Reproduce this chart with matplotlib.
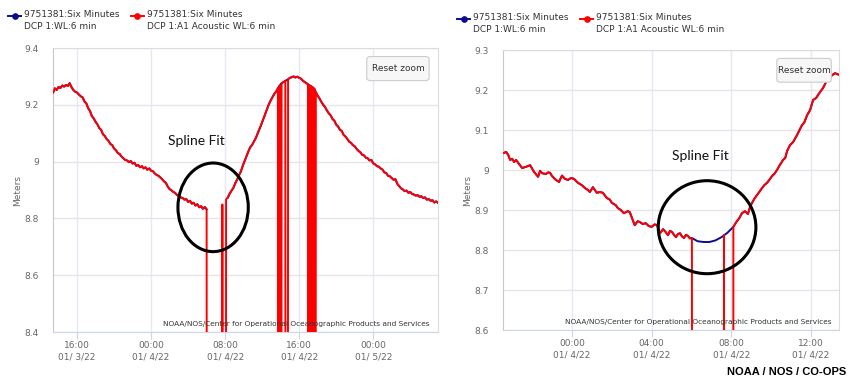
import matplotlib.pyplot as plt
import numpy as np
from matplotlib.lines import Line2D
from matplotlib.patches import Ellipse, FancyBboxPatch

# left panel: hours after 00:00 01/3/22, level in meters (0.0 = acoustic dropout)
left_hours = [
    13.4, 13.6, 13.8, 14.0, 14.2, 14.4, 14.6, 14.8, 15.0, 15.2,
    15.4, 15.6, 15.8, 16.0, 16.2, 16.4, 16.6, 16.8, 17.0, 17.2,
    17.4, 17.6, 17.8, 18.0, 18.2, 18.4, 18.6, 18.8, 19.0, 19.2,
    19.4, 19.6, 19.8, 20.0, 20.2, 20.4, 20.6, 20.8, 21.0, 21.2,
    21.4, 21.6, 21.8, 22.0, 22.2, 22.4, 22.6, 22.8, 23.0, 23.2,
    23.4, 23.6, 23.8, 24.0, 24.2, 24.4, 24.6, 24.8, 25.0, 25.2,
    25.4, 25.6, 25.8, 26.0, 26.2, 26.4, 26.6, 26.8, 27.0, 27.2,
    27.4, 27.6, 27.8, 28.0, 28.2, 28.4, 28.6, 28.8, 29.0, 29.2,
    29.4, 29.6, 29.8, 30.0,
    30.1, 31.6, 31.7, 31.8, 32.0, 32.1,
    32.3, 32.5, 32.7, 32.9, 33.1, 33.3, 33.5, 33.7, 33.9, 34.1,
    34.3, 34.5, 34.7, 34.9, 35.1, 35.3, 35.5, 35.7, 35.9, 36.1,
    36.3, 36.5, 36.7, 36.9, 37.1, 37.3, 37.5, 37.7,
    37.8, 37.9, 38.0, 38.1, 38.3, 38.5, 38.6, 38.7, 38.8, 39.0,
    39.2, 39.4, 39.6, 39.8, 40.0, 40.2, 40.4, 40.6, 40.8, 40.95,
    41.0, 41.05, 41.1, 41.15, 41.2, 41.25, 41.3, 41.35, 41.4, 41.45,
    41.5, 41.55, 41.6, 41.65, 41.7,
    41.8, 42.0, 42.2, 42.4, 42.6, 42.8, 43.0, 43.2, 43.4, 43.6,
    43.8, 44.0, 44.2, 44.4, 44.6, 44.8, 45.0, 45.2, 45.4, 45.6,
    45.8, 46.0, 46.2, 46.4, 46.6, 46.8, 47.0, 47.2, 47.4, 47.6,
    47.8, 48.0, 48.2, 48.4, 48.6, 48.8, 49.0, 49.2, 49.4, 49.6,
    49.8, 50.0, 50.2, 50.4, 50.6, 50.8, 51.0, 51.2, 51.4, 51.6,
    51.8, 52.0, 52.2, 52.4, 52.6, 52.8, 53.0, 53.2, 53.4, 53.6,
    53.8, 54.0, 54.2, 54.4, 54.6, 54.8, 55.0,
]
left_level = [
    9.242, 9.258, 9.252, 9.263, 9.259, 9.268, 9.264, 9.270, 9.266, 9.276,
    9.262, 9.252, 9.246, 9.243, 9.236, 9.230, 9.226, 9.212, 9.205, 9.188,
    9.178, 9.160, 9.152, 9.140, 9.131, 9.118, 9.112, 9.096, 9.090, 9.079,
    9.073, 9.062, 9.058, 9.046, 9.040, 9.030, 9.027, 9.018, 9.012, 9.006,
    9.004, 8.998, 9.002, 8.993, 8.996, 8.985, 8.988, 8.980, 8.984, 8.976,
    8.980, 8.971, 8.976, 8.968, 8.966, 8.958, 8.953, 8.950, 8.944, 8.938,
    8.930, 8.925, 8.912, 8.903, 8.899, 8.893, 8.890, 8.882, 8.880, 8.874,
    8.872, 8.866, 8.868, 8.858, 8.862, 8.852, 8.855, 8.845, 8.850, 8.839,
    8.843, 8.834, 8.840, 8.832,
    0.0, 0.0, 8.849, 0.0, 0.0, 8.867,
    8.874, 8.888, 8.898, 8.908, 8.924, 8.937, 8.952, 8.965, 8.985, 9.002,
    9.020, 9.035, 9.050, 9.058, 9.070, 9.082, 9.098, 9.115, 9.130, 9.148,
    9.165, 9.182, 9.200, 9.214, 9.226, 9.238, 9.246, 9.258,
    0.0, 9.268, 0.0, 9.276, 9.280, 9.284, 0.0, 0.0, 9.290, 9.295,
    9.297, 9.300, 9.296, 9.299, 9.295, 9.292, 9.285, 9.280, 9.276, 9.272,
    0.0, 9.270, 0.0, 9.268, 0.0, 9.266, 0.0, 9.264, 0.0, 9.262,
    0.0, 9.259, 0.0, 9.256, 0.0,
    9.245, 9.232, 9.222, 9.210, 9.200, 9.192, 9.180, 9.170, 9.163, 9.150,
    9.144, 9.130, 9.124, 9.112, 9.108, 9.094, 9.088, 9.080, 9.070, 9.066,
    9.058, 9.054, 9.045, 9.038, 9.033, 9.024, 9.022, 9.014, 9.012, 9.004,
    9.006, 8.994, 8.990, 8.984, 8.982, 8.976, 8.972, 8.962, 8.960, 8.950,
    8.948, 8.942, 8.936, 8.938, 8.922, 8.914, 8.906, 8.902, 8.896, 8.898,
    8.890, 8.893, 8.886, 8.884, 8.880, 8.882, 8.876, 8.878, 8.872, 8.874,
    8.866, 8.868, 8.862, 8.864, 8.856, 8.860, 8.855,
]
left_backup_gap = (30.05, 32.15)   # primary WL sensor also missing here

# right panel: hours after 00:00 01/4/22
right_hours = [
    -3.46, -3.3, -3.2, -3.1, -3.0, -2.9, -2.8, -2.7, -2.5, -2.3,
    -2.1, -1.9, -1.7, -1.6, -1.5, -1.3, -1.2, -1.1, -1.0, -0.85,
    -0.65, -0.5, -0.35, -0.2, -0.05, 0.1, 0.3, 0.5, 0.65, 0.8,
    0.9, 1.05, 1.15, 1.25, 1.4, 1.55, 1.75, 1.9, 2.0, 2.2,
    2.3, 2.45, 2.6, 2.8, 2.9, 3.05, 3.15, 3.3, 3.4, 3.55,
    3.7, 3.85, 4.0, 4.15, 4.27, 4.42, 4.57, 4.7, 4.82, 4.92,
    5.02, 5.12, 5.22, 5.32, 5.42, 5.52, 5.62, 5.72, 5.82, 5.92,
    6.02, 6.1, 7.6, 7.63, 7.7, 8.05, 8.1,
    8.25, 8.4, 8.53, 8.68, 8.83, 8.95, 9.03, 9.15, 9.28, 9.4,
    9.54, 9.65, 9.79, 9.9, 10.04, 10.15, 10.29, 10.4, 10.59, 10.7,
    10.8, 10.94, 11.1, 11.29, 11.4, 11.54, 11.65, 11.8, 11.95, 12.1,
    12.25, 12.45, 12.6, 12.8, 12.95, 13.05, 13.2, 13.3, 13.4,
]
right_level = [
    9.042, 9.045, 9.038, 9.025, 9.028, 9.020, 9.025, 9.018, 9.005, 9.008,
    9.012, 8.995, 8.983, 8.998, 8.992, 8.990, 8.994, 8.993, 8.985, 8.977,
    8.970, 8.986, 8.978, 8.975, 8.980, 8.978, 8.968, 8.962, 8.955, 8.950,
    8.945, 8.957, 8.950, 8.943, 8.945, 8.943, 8.930, 8.926, 8.918, 8.912,
    8.905, 8.900, 8.892, 8.897, 8.895, 8.875, 8.862, 8.872, 8.870, 8.865,
    8.867, 8.860, 8.858, 8.864, 8.862, 8.842, 8.852, 8.845, 8.837, 8.848,
    8.845, 8.838, 8.832, 8.840, 8.842, 8.834, 8.830, 8.838, 8.835, 8.829,
    8.830, 0.0, 0.0, 8.838, 0.0, 0.0, 8.858,
    8.870, 8.880, 8.892, 8.897, 8.890, 8.910, 8.917, 8.928, 8.937, 8.945,
    8.955, 8.962, 8.968, 8.975, 8.985, 8.990, 9.000, 9.010, 9.025, 9.030,
    9.048, 9.062, 9.070, 9.087, 9.098, 9.112, 9.118, 9.137, 9.150, 9.175,
    9.180, 9.195, 9.205, 9.225, 9.232, 9.237, 9.242, 9.240, 9.238,
]
spline_hours = [6.02, 6.3, 6.6, 6.9, 7.2, 7.5, 7.8, 8.1]
spline_level = [8.830, 8.822, 8.820, 8.820, 8.824, 8.832, 8.843, 8.858]

left_xticks = [16, 24, 32, 40, 48]
left_xlabels = ['16:00\n01/ 3/22', '00:00\n01/ 4/22', '08:00\n01/ 4/22',
                '16:00\n01/ 4/22', '00:00\n01/ 5/22']
left_yticks = [8.4, 8.6, 8.8, 9.0, 9.2, 9.4]
right_xticks = [0, 4, 8, 12]
right_xlabels = ['00:00\n01/ 4/22', '04:00\n01/ 4/22', '08:00\n01/ 4/22',
                 '12:00\n01/ 4/22']
right_yticks = [8.6, 8.7, 8.8, 8.9, 9.0, 9.1, 9.2, 9.3]

legend_names = ['9751381:Six Minutes\nDCP 1:WL:6 min',
                '9751381:Six Minutes\nDCP 1:A1 Acoustic WL:6 min']

RED = '#ff0000'
BLUE = '#0d0d8c'
CREDIT = 'NOAA/NOS/Center for Operational Oceanographic Products and Services'

plt.rcParams['font.family'] = ['DejaVu Sans']

fig = plt.figure(figsize=(8.5, 3.8), dpi=100)
ax1 = fig.add_axes([53 / 850, 1 - 332 / 380, 385 / 850, 284 / 380])
ax2 = fig.add_axes([503 / 850, 1 - 330 / 380, 336 / 850, 280 / 380])


def style(ax, xticks, xlabels, yticks, xlim, width_px):
    ax.set_xlim(*xlim)
    ax.set_ylim(yticks[0], yticks[-1])
    ax.set_xticks(xticks)
    ax.set_xticklabels(xlabels, fontsize=6.5, color='#666666', linespacing=1.35)
    ax.set_yticks(yticks)
    ax.set_yticklabels([f'{v:g}' for v in yticks], fontsize=6.5, color='#666666')
    ax.tick_params(axis='y', length=0, pad=10)
    ax.tick_params(axis='x', length=5, color='#ccd6eb', pad=1.5)
    ax.grid(axis='y', color='#e6e6e6', lw=1.0)
    ax.grid(axis='x', color='#e6e9f5', lw=1.0)
    ax.set_axisbelow(True)
    for s in ax.spines.values():
        s.set_color('#dcdcdc')
        s.set_linewidth(0.8)
    ax.spines['left'].set_color('#c8c8c8')
    ax.spines['bottom'].set_color('#ccd6eb')
    ax.set_ylabel('Meters', fontsize=6.5, color='#666666')
    ax.yaxis.set_label_coords(-31 / width_px, 0.5)
    ax.text(0.979, 0.018, CREDIT, transform=ax.transAxes, ha='right',
            va='bottom', fontsize=5.3, color='#333333')
    box = FancyBboxPatch((0.815, 0.885), 0.162, 0.085, transform=ax.transAxes,
                         boxstyle='round,pad=0,rounding_size=0.01',
                         fc='#f7f7f7', ec='#cccccc', lw=0.8, zorder=5)
    ax.add_patch(box)
    ax.text(0.896, 0.927, 'Reset zoom', transform=ax.transAxes, ha='center',
            va='center', fontsize=6.5, color='#333333', zorder=6)


# left panel
lh = np.array(left_hours)
lv = np.array(left_level)
in_gap = (lh > left_backup_gap[0]) & (lh < left_backup_gap[1])
keep = (lv > 0) | in_gap
blue_v = np.where(in_gap, np.nan, lv)
ax1.plot(lh[keep], blue_v[keep], color=BLUE, lw=1.4, zorder=2)
ax1.plot(lh, lv, color=RED, lw=1.4, zorder=3)
style(ax1, left_xticks, left_xlabels, left_yticks, (13.4, 55.0), 385)
ax1.add_patch(Ellipse((30.7, 8.839), 7.6, 0.312, fill=False, ec='black',
                      lw=2.2, zorder=4))
ax1.text(28.9, 9.074, 'Spline Fit', fontsize=10, family='Lato',
         ha='center', va='center', color='#111111')

# right panel
rh = np.array(right_hours)
rv = np.array(right_level)
outside = (rv > 0) & ((rh < spline_hours[0]) | (rh > spline_hours[-1]))
bh = np.concatenate([rh[outside], spline_hours])
bv = np.concatenate([rv[outside], spline_level])
order = np.argsort(bh)
ax2.plot(bh[order], bv[order], color=BLUE, lw=1.4, zorder=2)
ax2.plot(rh, rv, color=RED, lw=1.4, zorder=3)
style(ax2, right_xticks, right_xlabels, right_yticks, (-3.46, 13.4), 336)
ax2.add_patch(Ellipse((6.78, 8.857), 4.9, 0.2325, fill=False, ec='black',
                      lw=2.2, zorder=4))
ax2.text(6.42, 9.035, 'Spline Fit', fontsize=10, family='Lato',
         ha='center', va='center', color='#111111')

# legends above each panel (figure pixel positions)
for x0, y0 in [(8, 16), (457, 19)]:
    for dx, color, name in [(0, BLUE, legend_names[0]),
                            (123, RED, legend_names[1])]:
        xs = np.array([x0 + dx, x0 + dx + 13]) / 850
        ys = np.array([1 - y0 / 380] * 2)
        fig.add_artist(Line2D(xs, ys, color=color, lw=1.4))
        fig.add_artist(Line2D([xs.mean()], [ys[0]], color=color, marker='o',
                              markersize=3.8))
        fig.text((x0 + dx + 16) / 850, 1 - (y0 - 6) / 380, name,
                 fontsize=6.5, color='#333333', va='top', ha='left',
                 linespacing=1.45)

fig.text(846 / 850, 1 - 372 / 380, 'NOAA / NOS / CO-OPS', ha='right',
         va='center', fontsize=8, fontweight='bold', family='Liberation Sans')

fig.savefig('out.png', dpi=100)
